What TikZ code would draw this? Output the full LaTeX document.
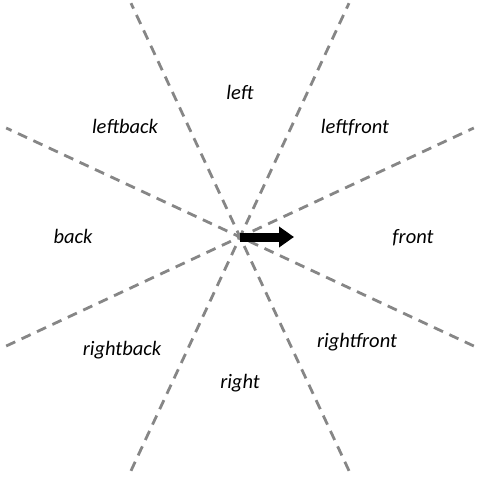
\documentclass[tikz,border=0pt]{standalone}
\usepackage{fontspec}
\setmainfont{Carlito}
\usetikzlibrary{arrows.meta,positioning}

\begin{document}
\begin{tikzpicture}[x=1pt, y=1pt]

    % Estilos
    \tikzstyle{divisor}=[draw=gray!95, line width=2.8pt, dash pattern=on 10pt off 7pt]
    \tikzstyle{zona}=[font=\fontsize{20.5}{22}\selectfont\itshape, inner sep=1pt]

    \useasboundingbox (-240,-242) rectangle (238,237);

    % Centro y extremos de las divisiones
    \coordinate (O) at (0,0);
    \foreach \ang/\nom in {25/a, 65/b, 115/c, 155/d, 205/e, 245/f, 295/g, 335/h}
        \coordinate (\nom) at (\ang:258);

    % Divisiones (líneas discontinuas)
    \path[divisor]
        (e) edge (a)
        (f) edge (b)
        (g) edge (c)
        (h) edge (d);

    % Flecha de dirección
    \coordinate (punta) at (54,0);
    \draw[line width=9pt, -{Triangle[width=20pt, length=15pt]}] (O) -- (punta);

    % Zonas
    \node[zona] (left)       at (0,145)     {left};
    \node[zona] (leftback)   at (-115,111)  {leftback};
    \node[zona] (leftfront)  at (115,109)   {leftfront};
    \node[zona] (back)       at (-167,1)    {back};
    \node[zona] (front)      at (173,-1)    {front};
    \node[zona] (rightback)  at (-118,-113) {rightback};
    \node[zona] (rightfront) at (117,-105)  {rightfront};
    \node[zona] (right)      at (0,-146)    {right};

\end{tikzpicture}
\end{document}
